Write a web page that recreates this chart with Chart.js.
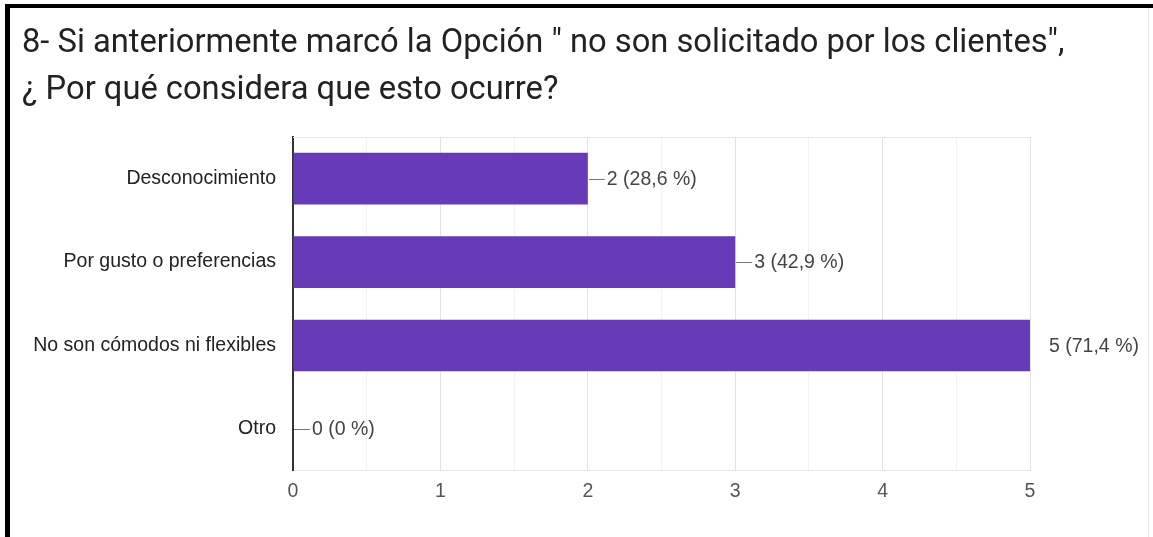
<!DOCTYPE html>
<html>
<head>
<meta charset="utf-8">
<script src="https://cdn.jsdelivr.net/npm/chart.js@4/dist/chart.umd.min.js"></script>
<style>
  html, body { margin: 0; padding: 0; background: #fff; }
  #wrap { position: relative; width: 1153px; height: 537px; overflow: hidden; background: #fff; }
  #chart { position: absolute; left: 0; top: 0; }
  .frame-top { position: absolute; left: 5px; top: 4px; width: 1148px; height: 4px; background: #000; }
  .frame-left { position: absolute; left: 5px; top: 4px; width: 5px; height: 533px; background: #000; }
  .frame-right { position: absolute; left: 1148px; top: 8px; width: 1px; height: 529px; background: #e8e8e8; }
</style>
</head>
<body>
<div id="wrap">
  <canvas id="chart" width="1153" height="537"></canvas>
  <div class="frame-top"></div>
  <div class="frame-left"></div>
  <div class="frame-right"></div>
</div>
<script>
// Survey question and answers
const titleLines = [
  '8- Si anteriormente marcó la Opción " no son solicitado por los clientes",',
  '¿ Por qué considera que esto ocurre?'
];
const categories = [
  'Desconocimiento',
  'Por gusto o preferencias',
  'No son cómodos ni flexibles',
  'Otro'
];
const responses = [2, 3, 5, 0];
const respondents = 7;
const xTicks = [0, 1, 2, 3, 4, 5];

const BAR_COLOR = '#673ab7';
const TICK_FONT = { family: '"Liberation Sans", Arial, sans-serif', size: 19.5 };

function pctText(v) {
  const p = Number((v / respondents * 100).toFixed(1));
  return v + ' (' + String(p).replace('.', ',') + ' %)';
}

// Two-line question heading, drawn at its natural width
const questionTitle = {
  id: 'questionTitle',
  afterDraw(chart) {
    const { ctx } = chart;
    ctx.save();
    ctx.font = '32.7px Roboto, "Noto Sans", sans-serif';
    ctx.fillStyle = '#222';
    ctx.textAlign = 'left';
    ctx.textBaseline = 'middle';
    titleLines.forEach((line, i) => ctx.fillText(line, 22, 43.5 + i * 47));
    ctx.restore();
  }
};

// Draws the top frame line and the value annotations beside each bar
const barAnnotations = {
  id: 'barAnnotations',
  afterDatasetsDraw(chart) {
    const { ctx, chartArea } = chart;
    ctx.save();
    ctx.strokeStyle = '#e6e6e6';
    ctx.lineWidth = 1;
    ctx.beginPath();
    ctx.moveTo(chartArea.left, chartArea.top + 0.5);
    ctx.lineTo(chartArea.right, chartArea.top + 0.5);
    ctx.stroke();

    const meta = chart.getDatasetMeta(0);
    ctx.font = '19.5px "Liberation Sans", Arial, sans-serif';
    ctx.textBaseline = 'middle';
    ctx.textAlign = 'left';
    meta.data.forEach((bar, i) => {
      const v = responses[i];
      const x = bar.x;
      const y = bar.y;
      // the stem is hidden when the bar reaches the right edge of the plot
      if (x < chartArea.right - 1) {
        ctx.strokeStyle = '#777';
        ctx.lineWidth = 1;
        ctx.beginPath();
        ctx.moveTo(x + 1, Math.round(y) + 0.5);
        ctx.lineTo(x + 17, Math.round(y) + 0.5);
        ctx.stroke();
      }
      ctx.fillStyle = '#444';
      ctx.fillText(pctText(v), x + 19, y + 1);
    });
    ctx.restore();
  }
};

new Chart(document.getElementById('chart'), {
  type: 'bar',
  data: {
    labels: categories,
    datasets: [{
      data: responses,
      backgroundColor: BAR_COLOR,
      borderWidth: 0,
      categoryPercentage: 1,
      barPercentage: 0.62
    }]
  },
  plugins: [barAnnotations, questionTitle],
  options: {
    indexAxis: 'y',
    responsive: false,
    animation: false,
    layout: { padding: { left: 22, right: 123, top: 137, bottom: 25 } },
    plugins: {
      legend: { display: false },
      tooltip: { enabled: false },
      title: { display: false }
    },
    scales: {
      x: {
        min: 0,
        max: 5,
        afterBuildTicks(scale) {
          const t = [];
          for (let v = 0; v <= 5; v += 0.5) t.push({ value: v });
          scale.ticks = t;
        },
        grid: {
          drawTicks: false,
          color: (c) => (c.tick && Number.isInteger(c.tick.value)) ? '#e2e2e2' : '#f2f2f2',
          lineWidth: 1
        },
        border: { display: true, color: '#e6e6e6', width: 1 },
        ticks: {
          padding: 9,
          color: '#555',
          font: TICK_FONT,
          autoSkip: false,
          maxRotation: 0,
          callback: (v) => xTicks.includes(v) ? String(v) : ''
        }
      },
      y: {
        afterFit(scale) { scale.width = 293 - 22; },
        grid: { display: false, drawTicks: false },
        border: { display: true, color: '#333', width: 2 },
        ticks: {
          padding: 17,
          color: '#222',
          font: TICK_FONT
        }
      }
    }
  }
});
</script>
</body>
</html>
